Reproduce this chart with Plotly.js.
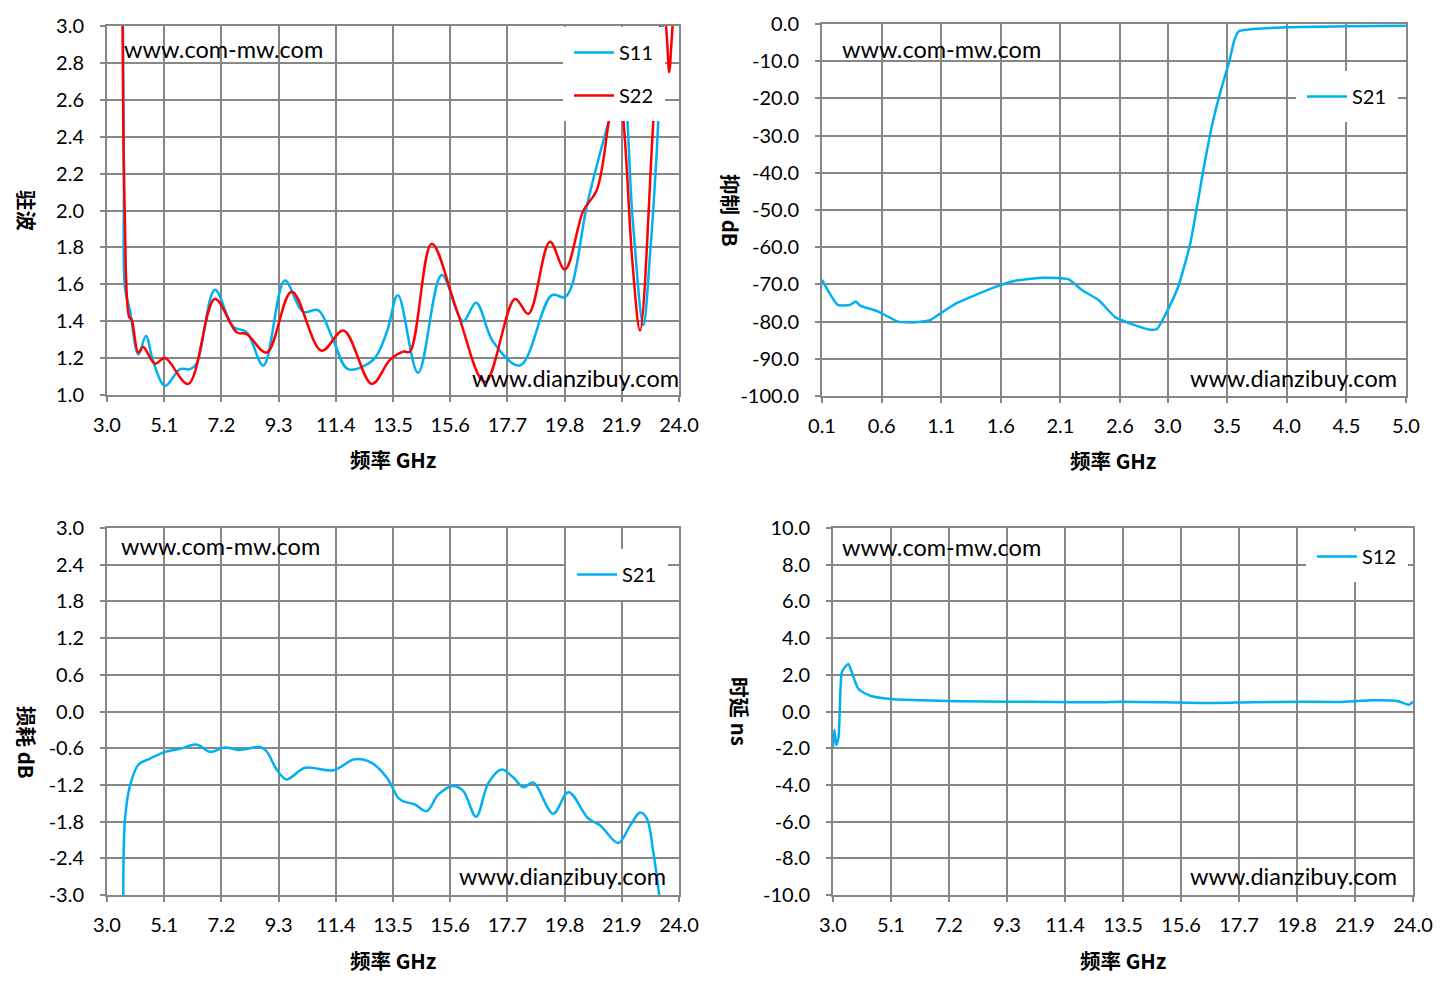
<!DOCTYPE html>
<html>
<head>
<meta charset="utf-8">
<script src="https://cdn.plot.ly/plotly-3.0.1.min.js"></script>
<style>
  body { margin: 0; background: #fff; }
  #chart { width: 1443px; height: 990px; }
</style>
</head>
<body>
<div id="chart"></div>
<script>
'use strict';

// VSWR, S11 / S22 (3-24 GHz)
const s11Freq = [3.57, 3.62, 3.66, 3.84, 4.15, 4.43, 4.7, 5.13, 5.68, 6.05, 6.29, 6.96, 7.63, 8.13, 8.74, 9.53, 10.2, 10.75, 11.3, 11.85, 12.77, 13.27, 13.68, 14.42, 15.29, 16.07, 16.55, 17.17, 18.16, 19.32, 19.81, 20.06, 20.61, 21.1, 21.47, 21.9, 22.3, 22.69, 22.94, 23.18, 23.41, 23.6];
const s11Vswr = [3.4, 2.2, 1.58, 1.46, 1.22, 1.32, 1.18, 1.05, 1.14, 1.14, 1.17, 1.57, 1.37, 1.34, 1.16, 1.62, 1.45, 1.46, 1.3, 1.14, 1.19, 1.34, 1.54, 1.12, 1.65, 1.40, 1.50, 1.29, 1.16, 1.54, 1.53, 1.59, 2.02, 2.31, 2.51, 2.75, 1.95, 1.38, 1.77, 2.31, 3.0, 3.4];

const s22Freq = [3.56, 3.65, 3.82, 3.9, 4.15, 4.33, 4.76, 5.13, 5.98, 6.96, 7.76, 8.13, 8.86, 9.78, 10.88, 11.68, 12.72, 13.39, 13.88, 14.12, 14.92, 15.84, 16.88, 17.98, 18.47, 19.26, 19.81, 20.49, 20.98, 21.41, 21.7, 21.95, 22.3, 22.57, 23.06, 23.3, 23.42, 23.55, 23.64, 23.72, 23.8];
const s22Vswr = [3.5, 2.0, 1.42, 1.41, 1.23, 1.26, 1.17, 1.2, 1.06, 1.52, 1.34, 1.33, 1.23, 1.56, 1.24, 1.35, 1.06, 1.19, 1.235, 1.235, 1.82, 1.46, 1.07, 1.52, 1.44, 1.83, 1.68, 2.00, 2.11, 2.47, 2.75, 2.5, 1.7, 1.35, 2.49, 2.98, 3.15, 2.95, 2.75, 2.9, 3.1];

// rejection, S21 (0.1-5 GHz)
const rejFreq = [0.1, 0.232, 0.335, 0.383, 0.419, 0.517, 0.572, 0.74, 0.88, 1.006, 1.075, 1.215, 1.355, 1.58, 1.72, 1.957, 2.167, 2.28, 2.42, 2.56, 2.70, 2.84, 2.91, 3.0, 3.09, 3.19, 3.30, 3.37, 3.44, 3.52, 3.56, 3.6, 4.0, 4.5, 5.0];
const rejDb = [-68.8, -75.5, -75.5, -74.6, -75.7, -76.7, -77.3, -80.0, -80.2, -79.6, -78.2, -75.3, -73.3, -70.4, -69.0, -68.2, -68.6, -71.5, -74.2, -78.8, -80.7, -82.1, -82.0, -76.9, -70.5, -59.0, -39.2, -27.6, -18.6, -9.7, -4.3, -1.9, -0.9, -0.6, -0.5];

// insertion loss, S21 (3-24 GHz)
const lossFreq = [3.6, 3.66, 3.84, 4.15, 4.58, 5.13, 5.68, 6.23, 6.41, 6.78, 7.33, 7.88, 8.62, 8.86, 9.23, 9.59, 10.27, 11.31, 12.1, 12.72, 13.27, 13.69, 13.88, 14.3, 14.74, 15.16, 15.71, 16.08, 16.55, 17.0, 17.49, 17.92, 18.28, 18.65, 19.38, 19.94, 20.67, 21.1, 21.77, 22.2, 22.57, 22.81, 23.06, 23.3];
const lossDb = [-3.3, -1.77, -1.22, -0.87, -0.77, -0.66, -0.61, -0.54, -0.56, -0.66, -0.59, -0.63, -0.58, -0.65, -0.95, -1.11, -0.92, -0.96, -0.78, -0.84, -1.08, -1.41, -1.47, -1.52, -1.63, -1.36, -1.22, -1.30, -1.72, -1.17, -0.95, -1.08, -1.24, -1.16, -1.67, -1.32, -1.75, -1.86, -2.15, -1.87, -1.65, -1.74, -2.31, -3.1];

// group delay, S12 (3-24 GHz)
const delayFreq = [3.0, 3.05, 3.12, 3.2, 3.32, 3.45, 3.56, 3.68, 3.92, 4.34, 5.1, 6.16, 7.5, 9.3, 11.0, 12.67, 13.4, 15.0, 16.53, 18.2, 19.93, 21.3, 22.58, 23.43, 23.85, 24.0];
const delayNs = [-1.95, -0.99, -1.83, -1.41, 2.14, 2.45, 2.59, 2.14, 1.23, 0.86, 0.68, 0.61, 0.56, 0.53, 0.52, 0.50, 0.53, 0.50, 0.46, 0.51, 0.53, 0.52, 0.61, 0.57, 0.37, 0.53];

// tick labels
const ghzTicks = ['3.0', '5.1', '7.2', '9.3', '11.4', '13.5', '15.6', '17.7', '19.8', '21.9', '24.0'];
const rejFreqTicks = ['0.1', '0.6', '1.1', '1.6', '2.1', '2.6', '3.0', '3.5', '4.0', '4.5', '5.0'];
const vswrTicks = ['1.0', '1.2', '1.4', '1.6', '1.8', '2.0', '2.2', '2.4', '2.6', '2.8', '3.0'];
const rejTicks = ['-100.0', '-90.0', '-80.0', '-70.0', '-60.0', '-50.0', '-40.0', '-30.0', '-20.0', '-10.0', '0.0'];
const lossTicks = ['-3.0', '-2.4', '-1.8', '-1.2', '-0.6', '0.0', '0.6', '1.2', '1.8', '2.4', '3.0'];
const delayTicks = ['-10.0', '-8.0', '-6.0', '-4.0', '-2.0', '0.0', '2.0', '4.0', '6.0', '8.0', '10.0'];

const BLUE = '#00b0f0';
const RED = '#ff0000';
const GRID = '#878787';
const W = 1443, H = 990;

function px(x) { return x / W; }
function py(y) { return 1 - y / H; }

function axis(x0, x1, labels, range, anchor, horiz) {
    return {
        domain: horiz ? [px(x0), px(x1)] : [py(x1), py(x0)],
        range: range,
        anchor: anchor,
        tickmode: 'array',
        tickvals: labels.map(Number),
        ticktext: labels,
        showgrid: true,
        gridcolor: GRID,
        gridwidth: 2,
        zeroline: false,
        showline: true,
        linecolor: GRID,
        linewidth: 2,
        mirror: true,
        ticks: 'outside',
        ticklen: 5,
        tickwidth: 2,
        tickcolor: GRID,
        ticklabelstandoff: horiz ? 6 : 12,
        tickfont: {family: 'Lato, sans-serif', size: 20, color: '#000'},
        fixedrange: true
    };
}

const traces = [
    {x: s11Freq, y: s11Vswr, name: 'S11', xaxis: 'x', yaxis: 'y', legend: 'legend', legendgroup: 'a',
     mode: 'lines', line: {color: BLUE, width: 2.5, shape: 'spline', smoothing: 1}},
    {x: s22Freq, y: s22Vswr, name: 'S22', xaxis: 'x', yaxis: 'y', legend: 'legend', legendgroup: 'b',
     mode: 'lines', line: {color: RED, width: 2.5, shape: 'spline', smoothing: 1}},
    {x: rejFreq, y: rejDb, name: 'S21', xaxis: 'x2', yaxis: 'y2', legend: 'legend2',
     mode: 'lines', line: {color: BLUE, width: 2.5, shape: 'spline', smoothing: 0.5}},
    {x: lossFreq, y: lossDb, name: 'S21', xaxis: 'x3', yaxis: 'y3', legend: 'legend3',
     mode: 'lines', line: {color: BLUE, width: 2.5, shape: 'spline', smoothing: 1}},
    {x: delayFreq, y: delayNs, name: 'S12', xaxis: 'x4', yaxis: 'y4', legend: 'legend4',
     mode: 'lines', line: {color: BLUE, width: 2.5, shape: 'spline', smoothing: 0.6}}
];

const titleFont = {family: '"Noto Sans CJK SC", sans-serif', size: 20.5, color: '#000', weight: 'bold'};
const markFont = {family: 'Lato, sans-serif', size: 23.5, color: '#000'};
const legFont = {family: 'Lato, sans-serif', size: 20, color: '#000'};

function legend(x, y) {
    return {x: px(x), y: py(y), xanchor: 'left', yanchor: 'top', xref: 'paper', yref: 'paper',
            bgcolor: '#fff', bordercolor: '#fff', borderwidth: 6, font: legFont,
            tracegroupgap: 14, itemwidth: 40};
}

function note(text, x, y, font, angle) {
    return {text: text, x: px(x), y: py(y), xref: 'paper', yref: 'paper', showarrow: false,
            font: font, textangle: angle || 0, xanchor: 'center', yanchor: 'middle'};
}

const layout = {
    width: W,
    height: H,
    margin: {l: 0, r: 0, t: 0, b: 0},
    paper_bgcolor: '#fff',
    plot_bgcolor: '#fff',
    showlegend: true,
    xaxis: axis(107, 679, ghzTicks, [3, 24], 'y', true),
    yaxis: axis(26, 395, vswrTicks, [1, 3], 'x', false),
    xaxis2: axis(822, 1406, rejFreqTicks, [0.1, 5.0], 'y2', true),
    yaxis2: axis(24, 396, rejTicks, [-100, 0], 'x2', false),
    xaxis3: axis(107, 679, ghzTicks, [3, 24], 'y3', true),
    yaxis3: axis(528, 895, lossTicks, [-3, 3], 'x3', false),
    xaxis4: axis(833, 1413, ghzTicks, [3, 24], 'y4', true),
    yaxis4: axis(528, 895, delayTicks, [-10, 10], 'x4', false),
    legend: legend(563, 27),
    legend2: legend(1296, 71),
    legend3: legend(566, 549),
    legend4: legend(1306, 531),
    annotations: [
        note('频率 GHz', 393, 459, titleFont),
        note('频率 GHz', 1113, 460, titleFont),
        note('频率 GHz', 393, 960, titleFont),
        note('频率 GHz', 1123, 960, titleFont),
        note('驻波', 27, 210, titleFont, 90),
        note('抑制 dB', 731, 210, titleFont, 90),
        note('损耗 dB', 27, 742, titleFont, 90),
        note('时延 ns', 740, 712, titleFont, 90),
        note('www.com-mw.com', 223, 49, markFont),
        note('www.dianzibuy.com', 575, 378, markFont),
        note('www.com-mw.com', 941, 49, markFont),
        note('www.dianzibuy.com', 1293, 378, markFont),
        note('www.com-mw.com', 221, 546, markFont),
        note('www.dianzibuy.com', 562, 876, markFont),
        note('www.com-mw.com', 941, 547, markFont),
        note('www.dianzibuy.com', 1293, 876, markFont)
    ]
};

Plotly.newPlot('chart', traces, layout, {displayModeBar: false, staticPlot: true});
</script>
</body>
</html>
